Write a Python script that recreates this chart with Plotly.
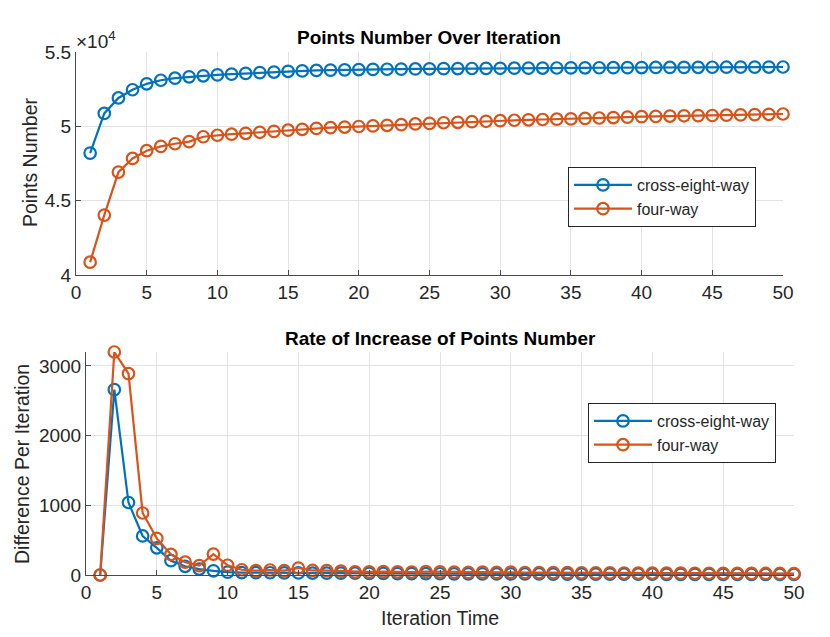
import plotly.graph_objects as go

# ---------------- data ----------------
iterations = list(range(1, 51))

cross_eight_way_points = [
    48200, 50870, 51910, 52460, 52860, 53100, 53240, 53330, 53400, 53460,
    53510, 53560, 53610, 53650, 53700, 53730, 53760, 53780, 53800, 53820,
    53830, 53840, 53850, 53860, 53870, 53880, 53885, 53890, 53900, 53905,
    53910, 53915, 53920, 53925, 53930, 53935, 53940, 53945, 53950, 53955,
    53960, 53963, 53966, 53970, 53973, 53976, 53980, 53983, 53986, 53990,
]
four_way_points = [
    40860, 44030, 46920, 47840, 48360, 48650, 48830, 48970, 49300, 49400,
    49470, 49530, 49600, 49660, 49740, 49800, 49860, 49910, 49950, 49990,
    50030, 50070, 50110, 50160, 50200, 50240, 50270, 50310, 50340, 50380,
    50410, 50440, 50460, 50480, 50500, 50530, 50560, 50590, 50620, 50650,
    50670, 50690, 50710, 50720, 50730, 50750, 50770, 50790, 50810, 50830,
]

cross_eight_way_diff = [
    0, 2660, 1040, 560, 390, 205, 125, 85, 60, 40,
    35, 33, 32, 30, 30, 28, 27, 26, 25, 24,
    22, 21, 20, 19, 18, 17, 17, 16, 15, 15,
    14, 14, 13, 13, 12, 12, 12, 11, 11, 11,
    10, 10, 10, 9, 9, 9, 8, 8, 8, 8,
]
four_way_diff = [
    0, 3200, 2890, 890, 525, 295, 185, 135, 300, 140,
    75, 62, 72, 62, 100, 65, 62, 55, 45, 45,
    48, 45, 43, 50, 45, 40, 38, 40, 37, 40,
    36, 35, 34, 33, 32, 30, 30, 29, 28, 28,
    27, 26, 25, 25, 24, 24, 23, 22, 22, 21,
]

series_names = ["cross-eight-way", "four-way"]
x_ticks = [0, 5, 10, 15, 20, 25, 30, 35, 40, 45, 50]
top_y_tickvals = [40000, 45000, 50000, 55000]
top_y_ticktext = ["4", "4.5", "5", "5.5"]
bottom_y_tickvals = [0, 1000, 2000, 3000]

# ---------------- style ----------------
BLUE = "#0072BD"
ORANGE = "#D95319"
FONT = "Liberation Sans, Arial, sans-serif"
TXT = "#262626"
GRID = "#e3e3e3"
AXL = "#4a4a4a"

OFF = 8  # page body margin
W, H = 830 - OFF, 637 - OFF

def px_x(p):
    return (p - OFF) / W

def px_y(p):
    return 1 - (p - OFF) / H

fig = go.Figure()

def add_series(y, name, color, xa, ya, legend, show=True):
    fig.add_trace(go.Scatter(
        x=iterations, y=y, name=name, mode="lines+markers",
        line=dict(color=color, width=2.2),
        marker=dict(symbol="circle-open", size=11.5, color=color,
                    line=dict(color=color, width=2.2)),
        xaxis=xa, yaxis=ya, legend=legend, showlegend=show,
        cliponaxis=False,
    ))

add_series(cross_eight_way_points, series_names[0], BLUE, "x", "y", "legend")
add_series(four_way_points, series_names[1], ORANGE, "x", "y", "legend")
add_series(cross_eight_way_diff, series_names[0], BLUE, "x2", "y2", "legend2")
add_series(four_way_diff, series_names[1], ORANGE, "x2", "y2", "legend2")

axis_common = dict(
    showgrid=True, gridcolor=GRID, gridwidth=1,
    showline=True, linecolor=AXL, linewidth=1,
    ticks="inside", ticklen=5, tickcolor=AXL,
    tickfont=dict(family=FONT, size=19, color=TXT),
    zeroline=False, mirror=False, automargin=False,
)

legend_common = dict(
    xanchor="left", yanchor="middle",
    bgcolor="white", bordercolor="#262626", borderwidth=1,
    font=dict(family=FONT, size=16, color=TXT),
    itemwidth=58, tracegroupgap=0,
)

fig.update_layout(
    width=W, height=H,
    margin=dict(l=0, r=0, t=0, b=0, autoexpand=False),
    paper_bgcolor="white", plot_bgcolor="white",
    font=dict(family=FONT, color=TXT),
    xaxis=dict(domain=[px_x(76), px_x(783)], range=[0, 50], anchor="y",
               tickvals=x_ticks, **axis_common),
    yaxis=dict(domain=[px_y(275), px_y(52)], range=[40000, 55000], anchor="x",
               tickvals=top_y_tickvals, ticktext=top_y_ticktext, **axis_common),
    xaxis2=dict(domain=[px_x(86), px_x(794)], range=[0, 50], anchor="y2",
                tickvals=x_ticks, **axis_common),
    yaxis2=dict(domain=[px_y(575), px_y(352)], range=[0, 3200], anchor="x2",
                tickvals=bottom_y_tickvals, **axis_common),
    legend=dict(x=px_x(568), y=px_y(197), **legend_common),
    legend2=dict(x=px_x(588), y=px_y(433), **legend_common),
    showlegend=True,
)

annotations = [
    dict(text="<b>Points Number Over Iteration</b>", x=px_x(429), y=px_y(38),
         font=dict(size=19, family=FONT, color="black")),
    dict(text="<b>Rate of Increase of Points Number</b>", x=px_x(440), y=px_y(338),
         font=dict(size=19, family=FONT, color="black")),
    dict(text="Points Number", x=px_x(30), y=px_y(163), textangle=-90,
         font=dict(size=19.5, family=FONT, color=TXT)),
    dict(text="Difference Per Iteration", x=px_x(22), y=px_y(464), textangle=-90,
         font=dict(size=19.5, family=FONT, color=TXT)),
    dict(text="Iteration Time", x=px_x(440), y=px_y(618),
         font=dict(size=19.5, family=FONT, color=TXT)),
    dict(text="×10<sup>4</sup>", x=px_x(74), y=px_y(40), xanchor="left",
         font=dict(size=19, family=FONT, color=TXT)),
]
for a in annotations:
    a.setdefault("xanchor", "center")
    a.update(xref="paper", yref="paper", yanchor="middle", showarrow=False)
    fig.add_annotation(**a)

fig.write_html("out.html")
